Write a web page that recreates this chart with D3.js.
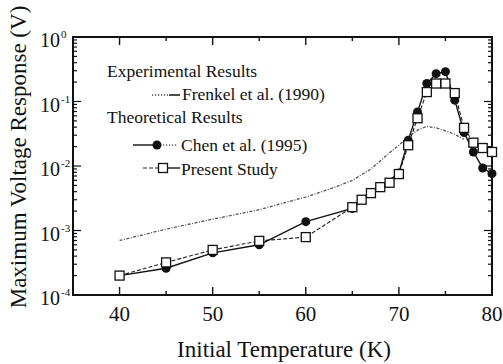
<!DOCTYPE html>
<html>
<head>
<meta charset="utf-8">
<script src="https://cdn.jsdelivr.net/npm/d3@7"></script>
<style>
  body { margin: 0; background: #fff; }
</style>
</head>
<body>
<div id="chart"></div>
<script>
// temperatures (K) and responses (V)
var chenT = [40, 45, 50, 55, 60, 65, 70, 71, 72, 73, 74, 75, 76, 77, 78, 79, 80];
var chenV = [2.0e-4, 2.6e-4, 4.5e-4, 6.0e-4, 1.37e-3, 2.2e-3, 7.8e-3, 0.025, 0.069, 0.19, 0.27, 0.29, 0.105, 0.033, 0.0165, 0.0093, 0.0076];

var presentT = [40, 45, 50, 55, 60, 65, 66, 67, 68, 69, 70, 71, 72, 73, 74, 75, 76, 77, 78, 79, 80];
var presentV = [2.0e-4, 3.2e-4, 5.0e-4, 6.9e-4, 7.9e-4, 2.3e-3, 3.0e-3, 3.8e-3, 4.7e-3, 5.5e-3, 7.5e-3, 0.021, 0.055, 0.14, 0.19, 0.19, 0.135, 0.039, 0.023, 0.019, 0.0165];

var frenkelT = [40, 45, 50, 55, 60, 63, 65, 67, 69, 70, 71, 72, 73, 74, 75, 76, 77];
var frenkelV = [7.0e-4, 1.05e-3, 1.5e-3, 2.1e-3, 3.3e-3, 4.6e-3, 6.0e-3, 9.0e-3, 0.016, 0.021, 0.028, 0.036, 0.041, 0.039, 0.035, 0.031, 0.026];

var xTicks = [40, 50, 60, 70, 80];
var yExps = [0, -1, -2, -3, -4];

var width = 503, height = 364;
var margin = {top: 37, right: 11, bottom: 69, left: 73};

var svg = d3.select('#chart').append('svg')
    .attr('width', width)
    .attr('height', height);

// every text goes through here so the serif face sticks
function label(parent, size) {
  return parent.append('text')
      .style('font-family', "'Liberation Serif'")
      .style('font-size', size + 'px')
      .attr('fill', '#111');
}

var x = d3.scaleLinear().domain([35, 80]).range([margin.left, width - margin.right]);
var y = d3.scaleLog().domain([1e-4, 1]).range([height - margin.bottom, margin.top]);

var x0 = margin.left, x1 = width - margin.right, y0 = height - margin.bottom, y1 = margin.top;

// inward ticks on all four sides
var minorX = d3.range(35, 81, 5).filter(function (d) { return d % 10 !== 0; });
function xTick(v, len) {
  svg.append('line').attr('x1', x(v)).attr('x2', x(v)).attr('y1', y0).attr('y2', y0 - len)
      .attr('stroke', '#111').attr('stroke-width', 1.4);
  svg.append('line').attr('x1', x(v)).attr('x2', x(v)).attr('y1', y1).attr('y2', y1 + len)
      .attr('stroke', '#111').attr('stroke-width', 1.4);
}
xTicks.forEach(function (d) { xTick(d, 8); });
minorX.forEach(function (d) { xTick(d, 4); });

var yMinor = [];
yExps.forEach(function (e) {
  if (e === 0) return;
  for (var k = 2; k < 10; k++) yMinor.push(k * Math.pow(10, e));
});
function yTick(v, len) {
  svg.append('line').attr('x1', x0).attr('x2', x0 + len).attr('y1', y(v)).attr('y2', y(v))
      .attr('stroke', '#111').attr('stroke-width', 1.2);
  svg.append('line').attr('x1', x1).attr('x2', x1 - len).attr('y1', y(v)).attr('y2', y(v))
      .attr('stroke', '#111').attr('stroke-width', 1.2);
}
yExps.forEach(function (e) { yTick(Math.pow(10, e), 8); });
yMinor.forEach(function (v) { yTick(v, 4); });

// frame
svg.append('rect')
    .attr('x', x0).attr('y', y1)
    .attr('width', x1 - x0).attr('height', y0 - y1)
    .attr('fill', 'none').attr('stroke', '#111').attr('stroke-width', 2);

// tick labels
xTicks.forEach(function (d) {
  label(svg, 21).attr('x', x(d)).attr('y', y0 + 26)
      .attr('text-anchor', 'middle').text(d);
});

yExps.forEach(function (e) {
  var t = label(svg, 20).attr('x', 40).attr('y', y(Math.pow(10, e)) + 10);
  t.append('tspan').text('10');
  t.append('tspan').attr('dy', -9).attr('dx', 1).style('font-size', '11px')
      .text(e === 0 ? '0' : '-' + Math.abs(e));
});

// axis titles
label(svg, 23)
    .attr('x', 284)
    .attr('y', height - 7)
    .attr('text-anchor', 'middle')
    .text('Initial Temperature (K)');

label(svg, 23)
    .attr('transform', 'translate(26,157) rotate(-90)')
    .attr('text-anchor', 'middle')
    .text('Maximum Voltage Response (V)');

// series
var line = d3.line()
    .x(function (d) { return x(d[0]); })
    .y(function (d) { return y(d[1]); });

var frenkel = d3.zip(frenkelT, frenkelV);
var chen = d3.zip(chenT, chenV);
var present = d3.zip(presentT, presentV);

svg.append('path').datum(frenkel).attr('d', line)
    .attr('fill', 'none').attr('stroke', '#555').attr('stroke-width', 1.3)
    .attr('stroke-dasharray', '3,1.5,1,1.5');

svg.append('path').datum(present).attr('d', line)
    .attr('fill', 'none').attr('stroke', '#222').attr('stroke-width', 1.1)
    .attr('stroke-dasharray', '4,2');

svg.append('path').datum(chen).attr('d', line)
    .attr('fill', 'none').attr('stroke', '#111').attr('stroke-width', 1.4);

svg.selectAll('.chen').data(chen).enter().append('circle')
    .attr('cx', function (d) { return x(d[0]); })
    .attr('cy', function (d) { return y(d[1]); })
    .attr('r', 4.5)
    .attr('fill', '#111');

svg.selectAll('.present').data(present).enter().append('rect')
    .attr('x', function (d) { return x(d[0]) - 4.5; })
    .attr('y', function (d) { return y(d[1]) - 4.5; })
    .attr('width', 9).attr('height', 9)
    .attr('fill', '#fff').attr('stroke', '#111').attr('stroke-width', 1.3);

// legend
var leg = svg.append('g');
label(leg, 17.5).attr('x', 107).attr('y', 77).text('Experimental Results');
leg.append('line').attr('x1', 152).attr('x2', 168).attr('y1', 95).attr('y2', 95)
    .attr('stroke', '#444').attr('stroke-width', 1.3).attr('stroke-dasharray', '1.2,1.8');
leg.append('line').attr('x1', 169).attr('x2', 180).attr('y1', 95).attr('y2', 95)
    .attr('stroke', '#111').attr('stroke-width', 1.5);
label(leg, 17.5).attr('x', 182).attr('y', 100).text('Frenkel et al. (1990)');
label(leg, 17.5).attr('x', 107).attr('y', 123).text('Theoretical Results');
leg.append('line').attr('x1', 133).attr('x2', 157).attr('y1', 145).attr('y2', 145)
    .attr('stroke', '#111').attr('stroke-width', 1.4);
leg.append('line').attr('x1', 157).attr('x2', 178).attr('y1', 145).attr('y2', 145)
    .attr('stroke', '#111').attr('stroke-width', 1.2).attr('stroke-dasharray', '1.2,1.8');
leg.append('circle').attr('cx', 157).attr('cy', 145).attr('r', 4.5).attr('fill', '#111');
label(leg, 17.5).attr('x', 181).attr('y', 151).text('Chen et al. (1995)');
leg.append('line').attr('x1', 143).attr('x2', 163).attr('y1', 168).attr('y2', 168)
    .attr('stroke', '#222').attr('stroke-width', 1.1).attr('stroke-dasharray', '4,2');
leg.append('line').attr('x1', 163).attr('x2', 180).attr('y1', 168).attr('y2', 168)
    .attr('stroke', '#111').attr('stroke-width', 1.4);
leg.append('rect').attr('x', 158.5).attr('y', 163.5).attr('width', 9).attr('height', 9)
    .attr('fill', '#fff').attr('stroke', '#111').attr('stroke-width', 1.3);
label(leg, 17.5).attr('x', 181).attr('y', 175).text('Present Study');
</script>
</body>
</html>
